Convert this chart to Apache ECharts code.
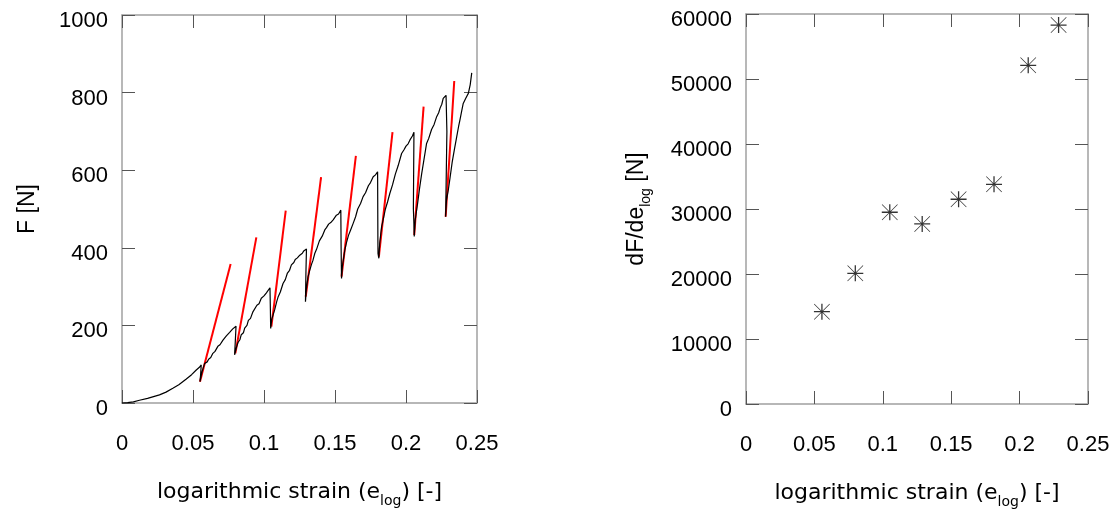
<!DOCTYPE html>
<html>
<head>
<meta charset="utf-8">
<script src="https://cdn.jsdelivr.net/npm/echarts@6/dist/echarts.min.js"></script>
<style>
html,body{margin:0;padding:0;background:#fff;}
#c{width:1117px;height:509px;}
</style>
</head>
<body>
<div id="c"></div>
<script>
// ---- data ----
const xTickLabels = ['0', '0.05', '0.1', '0.15', '0.2', '0.25'];
const forceTickLabels = ['0', '200', '400', '600', '800', '1000'];
const slopeTickLabels = ['0', '10000', '20000', '30000', '40000', '50000', '60000'];

// force vs logarithmic strain (black curve)
const forceCurve = [
  [0,0],[0.004,1],[0.008,3],[0.0123,7],[0.018,12],[0.0264,21],[0.031,28],[0.0358,38],[0.040,47],[0.0453,62],[0.049,73],[0.0523,85],[0.0545,92],[0.0558,98],
  [0.0553,70],[0.0549,55],
  [0.0565,82],[0.0582,102],[0.060,106],[0.061,113],[0.0625,117],[0.064,128],[0.0655,133],[0.0675,146],[0.069,150],[0.0711,162],[0.0725,165],[0.0735,173],[0.0758,182],[0.077,184],[0.078,191],[0.0803,198],
  [0.0798,160],[0.0793,124],
  [0.0805,142],[0.0817,156],[0.083,163],[0.084,176],[0.0855,181],[0.0864,193],[0.088,200],[0.089,213],[0.0905,218],[0.0922,235],[0.0935,240],[0.095,252],[0.0965,256],[0.0981,270],[0.1,276],[0.1017,284],[0.103,289],[0.1042,297],
  [0.1045,240],[0.1047,192],
  [0.1055,216],[0.1075,240],[0.109,262],[0.110,274],[0.1115,286],[0.1134,308],[0.115,318],[0.1165,335],[0.118,342],[0.1193,356],[0.121,362],[0.122,370],[0.1235,374],[0.1252,381],[0.127,386],[0.128,392],[0.1299,397],
  [0.1295,330],[0.1292,261],
  [0.1298,292],[0.131,325],[0.1322,342],[0.1335,358],[0.1345,368],[0.1358,386],[0.137,396],[0.139,418],[0.141,430],[0.1428,446],[0.144,452],[0.1455,461],[0.147,465],[0.1487,472],[0.15,477],[0.151,484],[0.1525,487],[0.1533,491],[0.1541,497],
  [0.1543,400],[0.1546,321],
  [0.1552,352],[0.1569,394],[0.158,412],[0.1595,432],[0.161,446],[0.1628,463],[0.1645,480],[0.166,500],[0.168,514],[0.1698,532],[0.1715,542],[0.1735,560],[0.175,568],[0.1769,583],[0.1785,588],[0.18,596],
  [0.1802,420],[0.1803,385],[0.1809,373],
  [0.1815,412],[0.1828,454],[0.184,474],[0.1855,500],[0.187,518],[0.1886,540],[0.1905,562],[0.1925,590],[0.1945,612],[0.1969,643],[0.1985,652],[0.200,662],[0.2015,668],[0.2028,678],[0.2045,688],[0.2056,698],
  [0.2054,600],[0.2052,500],[0.2055,470],[0.2058,429],
  [0.2065,472],[0.2082,515],[0.2095,552],[0.211,590],[0.2125,624],[0.2145,669],[0.216,682],[0.218,705],[0.2198,718],[0.2216,738],[0.223,748],[0.224,760],[0.2252,770],[0.2262,785],[0.2282,793],[0.2293,798],
  [0.2288,700],[0.2284,600],[0.2279,480],
  [0.2285,522],[0.2298,549],[0.231,580],[0.2325,620],[0.234,652],[0.2357,686],[0.237,712],[0.238,730],[0.2392,752],[0.2403,772],[0.242,785],[0.2439,798],[0.2452,820],[0.2463,851]
];

// red stiffness lines: start and end points
const redStart = [[0.0549,55],[0.0798,128],[0.1052,197],[0.1294,274],[0.1546,326],[0.1809,377],[0.2058,433],[0.2279,480]];
const redEnd   = [[0.0765,358],[0.0946,427],[0.1153,496],[0.1402,582],[0.1647,637],[0.1905,698],[0.2124,764],[0.2340,830]];

// slope dF/de_log vs strain
const slopeStrain = [0.0555, 0.0799, 0.1051, 0.1288, 0.1554, 0.1813, 0.2063, 0.2285];
const slopeValue  = [14200, 20100, 29500, 27700, 31500, 33800, 52100, 58300];

// ---- chart ----
const chart = echarts.init(document.getElementById('c'), null, {renderer: 'canvas'});
const frameColor = '#a0a0a0';
const tickColor = '#555';
const tickFont = {fontFamily: 'Liberation Sans', fontSize: 22, color: '#000'};

function makeX(gridIndex, pos, showLabel) {
  const ax = {
    type: 'value', gridIndex: gridIndex, position: pos, min: 0, max: 0.25, interval: 0.05,
    axisLine: {show: true, onZero: false, lineStyle: {color: frameColor, width: 1.5}},
    axisTick: {show: true, inside: true, length: 13, lineStyle: {color: tickColor, width: 1}},
    splitLine: {show: false},
    axisLabel: Object.assign({show: showLabel, margin: 30,
      formatter: function (v) { return xTickLabels[Math.round(v / 0.05)]; }}, tickFont)
  };
  if (showLabel) {
    ax.name = '{t|logarithmic strain (e}{s|log}{t|) [-]}';
    ax.nameLocation = 'middle';
    ax.nameGap = 78;
    ax.nameTextStyle = {
      rich: {
        t: {fontFamily: 'DejaVu Sans', fontSize: 22, color: '#000', lineHeight: 22},
        s: {fontFamily: 'DejaVu Sans', fontSize: 14, color: '#000', lineHeight: 14, padding: [18, 0, 0, 0]}
      }
    };
  }
  return ax;
}
function makeY(gridIndex, pos, showLabel, max, interval, labels, nameRich, gap) {
  const ax = {
    type: 'value', gridIndex: gridIndex, position: pos, min: 0, max: max, interval: interval,
    axisLine: {show: true, onZero: false, lineStyle: {color: frameColor, width: 1.5}},
    axisTick: {show: true, inside: true, length: 13, lineStyle: {color: tickColor, width: 1}},
    splitLine: {show: false},
    axisLabel: Object.assign({show: showLabel, margin: 14, verticalAlign: 'top', lineHeight: 12,
      formatter: function (v) { return labels[Math.round(v / interval)]; }}, tickFont)
  };
  if (showLabel) {
    ax.name = nameRich;
    ax.nameLocation = 'middle';
    ax.nameGap = gap;
    ax.nameRotate = 90;
    ax.nameTextStyle = {
      rich: {
        t: {fontFamily: 'Liberation Sans', fontSize: 23, color: '#000', lineHeight: 23},
        s: {fontFamily: 'Liberation Sans', fontSize: 14, color: '#000', lineHeight: 14, padding: [20, 0, 0, 0]}
      }
    };
  }
  return ax;
}

const series = [{
  type: 'line', xAxisIndex: 0, yAxisIndex: 0, data: forceCurve,
  showSymbol: false, symbol: 'none', lineStyle: {color: '#000', width: 1.2}, z: 3
}];
for (let i = 0; i < redStart.length; i++) {
  series.push({
    type: 'line', xAxisIndex: 0, yAxisIndex: 0, data: [redStart[i], redEnd[i]],
    showSymbol: false, symbol: 'none', lineStyle: {color: '#ff0000', width: 2}, z: 2
  });
}
const starPath = 'path://M46 0L54 0L54 100L46 100Z M0 46L100 46L100 54L0 54Z M3 0L100 97L97 100L0 3Z M97 0L100 3L3 100L0 97Z M42 42L58 42L58 58L42 58Z';
series.push({
  type: 'scatter', xAxisIndex: 2, yAxisIndex: 2,
  data: slopeStrain.map((x, i) => [x, slopeValue[i]]),
  symbol: starPath, symbolSize: 16, itemStyle: {color: '#000'}
});

chart.setOption({
  animation: false,
  backgroundColor: '#fff',
  grid: [
    {left: 122, right: 640, top: 15, bottom: 106, containLabel: false, outerBoundsMode: 'none'},
    {left: 746, right: 29, top: 14, bottom: 105, containLabel: false, outerBoundsMode: 'none'}
  ],
  xAxis: [makeX(0, 'bottom', true), makeX(0, 'top', false), makeX(1, 'bottom', true), makeX(1, 'top', false)],
  yAxis: [
    makeY(0, 'left', true, 1000, 200, forceTickLabels, '{t|F [N]}', 83),
    makeY(0, 'right', false, 1000, 200, forceTickLabels, '', 0),
    makeY(1, 'left', true, 60000, 10000, slopeTickLabels, '{t|dF/de}{s|log}{t| [N]}', 98),
    makeY(1, 'right', false, 60000, 10000, slopeTickLabels, '', 0)
  ],
  series: series
});
</script>
</body>
</html>
